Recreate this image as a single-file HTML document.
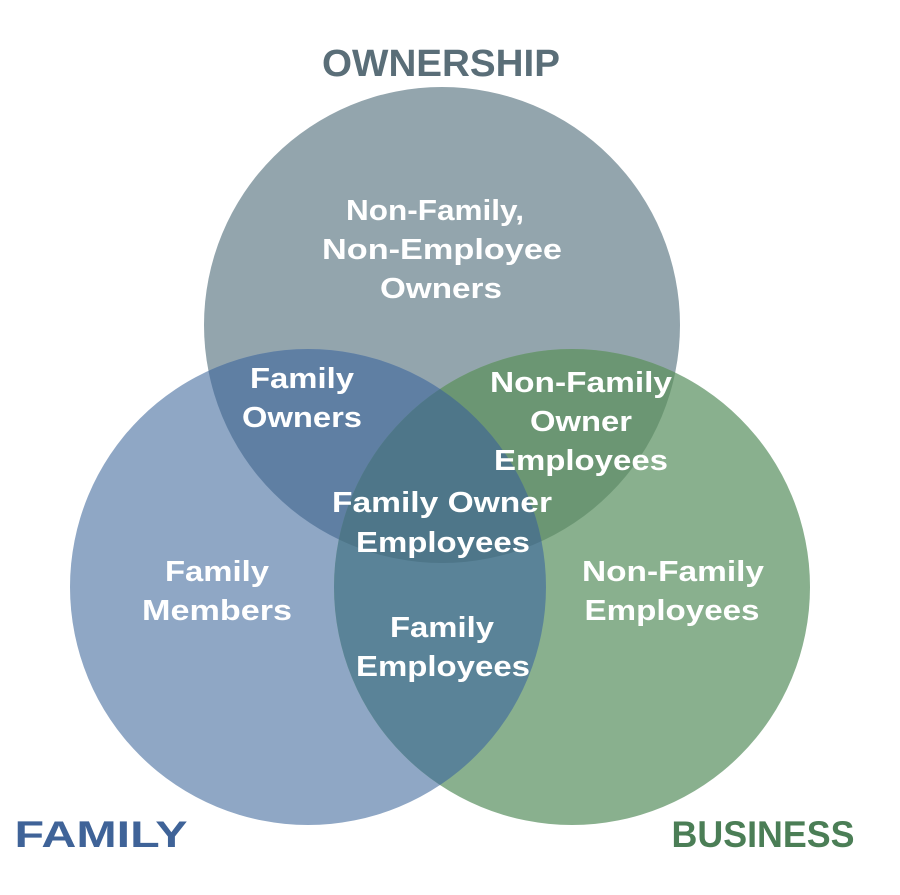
<!DOCTYPE html>
<html><head><meta charset="utf-8"><style>
html,body{margin:0;padding:0;background:#fff;}
svg{display:block}
text{font-family:"Liberation Sans",Arial,sans-serif;font-weight:bold;text-anchor:middle;}
</style></head><body>
<svg width="900" height="895" viewBox="0 0 900 895" xmlns="http://www.w3.org/2000/svg">
<defs>
<clipPath id="cT"><circle cx="442" cy="325" r="238"/></clipPath>
<clipPath id="cL"><circle cx="308" cy="587" r="238"/></clipPath>
<clipPath id="cR"><circle cx="572" cy="587" r="238"/></clipPath>
</defs>
<circle cx="442" cy="325" r="238" fill="#93a5ad"/>
<circle cx="308" cy="587" r="238" fill="#8fa7c5"/>
<circle cx="572" cy="587" r="238" fill="#89b08e"/>
<g clip-path="url(#cT)"><circle cx="308" cy="587" r="238" fill="#5f7fa3"/></g>
<g clip-path="url(#cT)"><circle cx="572" cy="587" r="238" fill="#6b9673"/></g>
<g clip-path="url(#cL)"><circle cx="572" cy="587" r="238" fill="#5a8398"/></g>
<g clip-path="url(#cT)"><g clip-path="url(#cL)"><circle cx="572" cy="587" r="238" fill="#4e7689"/></g></g>
<text x="441" y="76" font-size="38" fill="#5a6e78" textLength="238" lengthAdjust="spacingAndGlyphs">OWNERSHIP</text>
<text x="101" y="847" font-size="37" fill="#3f6398" textLength="173" lengthAdjust="spacingAndGlyphs">FAMILY</text>
<text x="763" y="847" font-size="37" fill="#4b7e56" textLength="183" lengthAdjust="spacingAndGlyphs">BUSINESS</text>
<g fill="#fff" font-size="29" lengthAdjust="spacingAndGlyphs">
<text x="435" y="220" textLength="178" lengthAdjust="spacingAndGlyphs">Non-Family,</text>
<text x="442" y="259" textLength="240" lengthAdjust="spacingAndGlyphs">Non-Employee</text>
<text x="441" y="298" textLength="122" lengthAdjust="spacingAndGlyphs">Owners</text>
<text x="302" y="388" textLength="104" lengthAdjust="spacingAndGlyphs">Family</text>
<text x="302" y="427" textLength="120" lengthAdjust="spacingAndGlyphs">Owners</text>
<text x="581" y="392" textLength="182" lengthAdjust="spacingAndGlyphs">Non-Family</text>
<text x="581" y="431" textLength="102" lengthAdjust="spacingAndGlyphs">Owner</text>
<text x="581" y="470" textLength="174" lengthAdjust="spacingAndGlyphs">Employees</text>
<text x="442" y="512" textLength="220" lengthAdjust="spacingAndGlyphs">Family Owner</text>
<text x="443" y="552" textLength="174" lengthAdjust="spacingAndGlyphs">Employees</text>
<text x="217" y="581" textLength="104" lengthAdjust="spacingAndGlyphs">Family</text>
<text x="217" y="620" textLength="150" lengthAdjust="spacingAndGlyphs">Members</text>
<text x="673" y="581" textLength="182" lengthAdjust="spacingAndGlyphs">Non-Family</text>
<text x="672" y="620" textLength="175" lengthAdjust="spacingAndGlyphs">Employees</text>
<text x="442" y="637" textLength="104" lengthAdjust="spacingAndGlyphs">Family</text>
<text x="443" y="676" textLength="174" lengthAdjust="spacingAndGlyphs">Employees</text>
</g>
</svg>
</body></html>
